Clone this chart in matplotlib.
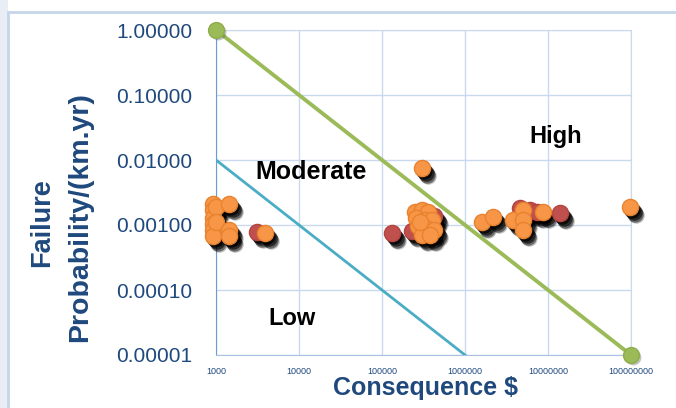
import matplotlib
matplotlib.use("Agg")
import matplotlib.pyplot as plt
import matplotlib.transforms as mtransforms
from matplotlib.patches import Rectangle
from matplotlib.ticker import NullLocator

# ---- data ----
orange_x = [920, 920, 920, 920, 920, 920, 1000, 1000, 1450, 1450, 1450, 3900,
            303000, 250000, 300000, 360000, 260000, 330000, 400000, 270000, 340000,
            420000, 300000, 380000, 290000,
            1.6e6, 2.17e6, 3.78e6, 5.0e6, 5.0e6, 5.0e6, 8.7e6, 9.7e7]
orange_y = [0.0021, 0.0017, 0.0013, 0.00105, 0.00084, 0.00068, 0.0019, 0.0011,
            0.0021, 0.00085, 0.00068, 0.00075,
            0.0075, 0.0016, 0.0017, 0.0016, 0.0013, 0.0012, 0.0012, 0.00095, 0.0009,
            0.00085, 0.0007, 0.0007, 0.0011,
            0.00111, 0.00133, 0.0012, 0.0017, 0.0012, 0.00084, 0.00158, 0.0019]
red_x = [3100, 132000, 420000, 230000, 4.6e6, 6.0e6, 7.4e6, 1.4e7]
red_y = [0.00078, 0.00075, 0.0014, 0.0008, 0.00183, 0.0017, 0.00158, 0.00152]

high_line_x = [1e3, 1e8]
high_line_y = [1.0, 1e-5]
low_line_x = [1e3, 1e6]
low_line_y = [1e-2, 1e-5]

xticks = [1e3, 1e4, 1e5, 1e6, 1e7, 1e8]
xtick_labels = ["1000", "10000", "100000", "1000000", "10000000", "100000000"]
yticks = [1e-5, 1e-4, 1e-3, 1e-2, 1e-1, 1.0]
ytick_labels = ["0.00001", "0.00010", "0.00100", "0.01000", "0.10000", "1.00000"]

navy = "#1F497D"
grid_c = "#C9D9EE"
font = "Liberation Sans"

fig = plt.figure(figsize=(6.76, 4.08), dpi=100)
fig.patch.set_facecolor("white")

# slide-like background pieces
fig.patches.append(Rectangle((0, 0), 8/676, 1, transform=fig.transFigure,
                             facecolor="#E9EEF6", edgecolor="none", zorder=-2))
fig.patches.append(Rectangle((8/676, -0.05), 1.0, 1 - 12/408 + 0.05, transform=fig.transFigure,
                             facecolor="white", edgecolor="#C5D5EA", lw=2, zorder=-1))

ax = fig.add_axes([216/676, 1 - 355/408, 415/676, 325/408])
ax.set_facecolor("none")
ax.set_xscale("log")
ax.set_yscale("log")
ax.set_xlim(1e3, 1e8)
ax.set_ylim(1e-5, 1)
ax.xaxis.set_minor_locator(NullLocator())
ax.yaxis.set_minor_locator(NullLocator())
ax.set_xticks(xticks)
ax.set_xticklabels(xtick_labels, fontsize=6.5, color=navy, family=font)
ax.set_yticks(yticks)
ax.set_yticklabels(ytick_labels, fontsize=15, color=navy, family=font)
ax.tick_params(axis="x", length=0, pad=9)
ax.tick_params(axis="y", length=0, pad=17)
ax.grid(True, color=grid_c, lw=1)
ax.set_axisbelow(True)
for s in ["top", "right"]:
    ax.spines[s].set_color(grid_c)
ax.spines["left"].set_color("#6F9BD1")
ax.spines["bottom"].set_color("#A9C2E3")

# lines
ax.plot(high_line_x, high_line_y, color="#9BBB59", lw=2.8, zorder=3, clip_on=False)
ax.plot(low_line_x, low_line_y, color="#4BACC6", lw=2, zorder=3)
sh = mtransforms.offset_copy(ax.transData, fig=fig, x=1.5, y=-2, units="dots")
ax.scatter(high_line_x, high_line_y, s=130, color="#555555", alpha=0.35, transform=sh,
           zorder=3.5, clip_on=False, linewidths=0)
ax.scatter(high_line_x, high_line_y, s=130, color="#9BBB59", edgecolors="#8DAD4B",
           linewidths=1, zorder=4, clip_on=False)

# shadows for scatter points
allx = red_x + orange_x
ally = red_y + orange_y
for dx, dy, a in [(2, -3, 0.7), (4, -5, 0.6), (5, -7, 0.45), (6, -8, 0.25)]:
    tr = mtransforms.offset_copy(ax.transData, fig=fig, x=dx, y=dy, units="dots")
    ax.scatter(allx, ally, s=140, color="black", alpha=a, linewidths=0,
               transform=tr, zorder=5, clip_on=False)

ax.scatter(red_x, red_y, s=135, color="#C0504D", edgecolors="#B5443F",
           linewidths=1, zorder=6, clip_on=False)
ax.scatter(orange_x, orange_y, s=135, color="#F79646", edgecolors="#E8822E",
           linewidths=1, zorder=7, clip_on=False)

# region labels
ax.text(1.25e7, 0.0226, "High", fontsize=17, fontweight="bold", family=font,
        ha="center", va="center", zorder=8)
ax.text(13960, 0.00654, "Moderate", fontsize=18, fontweight="bold", family=font,
        ha="center", va="center", zorder=8)
ax.text(8240, 3.7e-5, "Low", fontsize=17, fontweight="bold", family=font,
        ha="center", va="center", zorder=8)

# axis titles
fig.text(425/676, 1 - 388/408, "Consequence $", fontsize=18, fontweight="bold",
         family=font, color=navy, ha="center", va="center")
fig.text(42/676, 1 - 223/408, "Failure", fontsize=19.5, fontweight="bold",
         family=font, color=navy, ha="center", va="center", rotation=90)
fig.text(80/676, 1 - 217/408, "Probability/(km.yr)", fontsize=20.5, fontweight="bold",
         family=font, color=navy, ha="center", va="center", rotation=90)

fig.savefig("out.png", dpi=100)
